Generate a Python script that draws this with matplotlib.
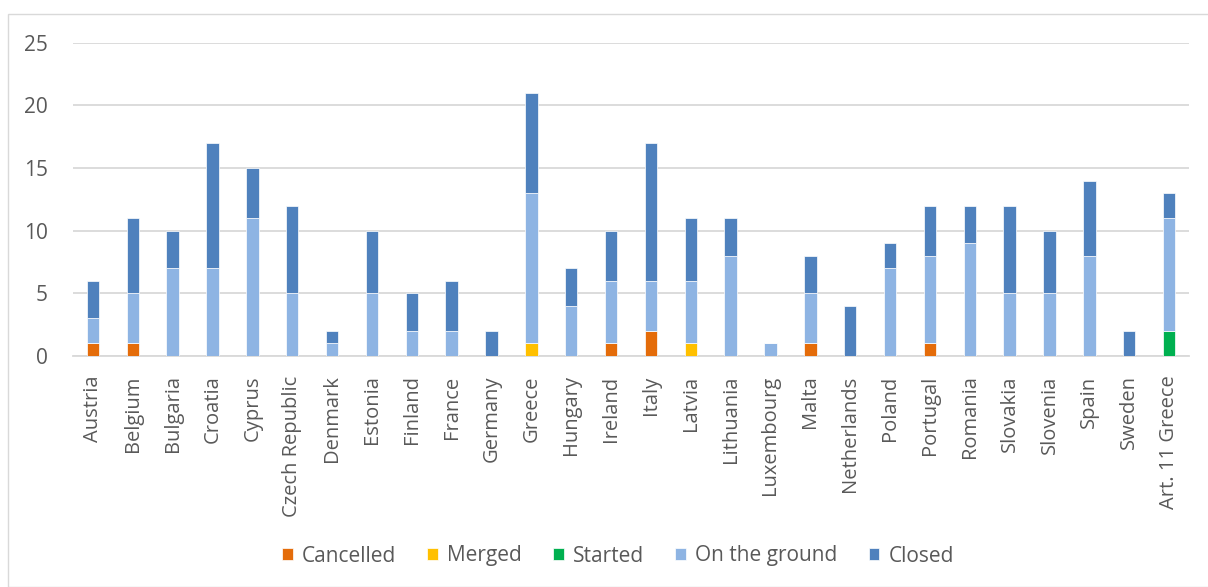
import matplotlib
matplotlib.use("Agg")
import matplotlib.pyplot as plt
import numpy as np
from matplotlib.patches import Rectangle

countries = ["Austria", "Belgium", "Bulgaria", "Croatia", "Cyprus", "Czech Republic",
             "Denmark", "Estonia", "Finland", "France", "Germany", "Greece", "Hungary",
             "Ireland", "Italy", "Latvia", "Lithuania", "Luxembourg", "Malta",
             "Netherlands", "Poland", "Portugal", "Romania", "Slovakia", "Slovenia",
             "Spain", "Sweden", "Art. 11 Greece"]
cancelled = [1, 1, 0, 0, 0, 0, 0, 0, 0, 0, 0, 0, 0, 1, 2, 0, 0, 0, 1, 0, 0, 1, 0, 0, 0, 0, 0, 0]
merged    = [0, 0, 0, 0, 0, 0, 0, 0, 0, 0, 0, 1, 0, 0, 0, 1, 0, 0, 0, 0, 0, 0, 0, 0, 0, 0, 0, 0]
started   = [0, 0, 0, 0, 0, 0, 0, 0, 0, 0, 0, 0, 0, 0, 0, 0, 0, 0, 0, 0, 0, 0, 0, 0, 0, 0, 0, 2]
on_ground = [2, 4, 7, 7, 11, 5, 1, 5, 2, 2, 0, 12, 4, 5, 4, 5, 8, 1, 4, 0, 7, 7, 9, 5, 5, 8, 0, 9]
closed    = [3, 6, 3, 10, 4, 7, 1, 5, 3, 4, 2, 8, 3, 4, 11, 5, 3, 0, 3, 4, 2, 4, 3, 7, 5, 6, 2, 2]
series_names = ["Cancelled", "Merged", "Started", "On the ground", "Closed"]
colors = ["#E46C0A", "#FFC000", "#00B050", "#8EB4E3", "#4F81BD"]

FONT = ["Open Sans", "DejaVu Sans"]
TXT = "#595959"

fig = plt.figure(figsize=(12.08, 5.87), dpi=100)
W, H = 1208, 587
ax = fig.add_axes([73 / W, 1 - 356 / H, (1189 - 73) / W, (356 - 42.7) / H])

x = np.arange(len(countries))
bottom = np.zeros(len(countries))
handles = []
for name, vals, c in zip(series_names, [cancelled, merged, started, on_ground, closed], colors):
    vals = np.array(vals, dtype=float)
    b = ax.bar(x, vals, 0.31, bottom=bottom, color=c, edgecolor="white", linewidth=0.5,
               label=name, zorder=3)
    handles.append(b)
    bottom += vals

ax.set_xlim(-0.5, len(countries) - 0.5)
ax.set_ylim(0, 25)
ax.set_yticks([0, 5, 10, 15, 20, 25])
ax.yaxis.grid(True, color="#D9D9D9", linewidth=1.3, zorder=0)
ax.set_axisbelow(True)
for s in ["top", "right", "left"]:
    ax.spines[s].set_visible(False)
ax.spines["bottom"].set_color("#D9D9D9")
ax.spines["bottom"].set_linewidth(1.3)
ax.tick_params(axis="both", length=0, colors=TXT)
ax.tick_params(axis="y", pad=18)
ax.tick_params(axis="x", pad=14)
ax.set_xticks(x)
ax.set_xticklabels(countries, rotation=90, va="top", ha="center")
for lab in ax.get_xticklabels():
    lab.set_fontfamily(FONT)
    lab.set_fontsize(14.5)
    lab.set_color(TXT)
for lab in ax.get_yticklabels():
    lab.set_fontfamily(FONT)
    lab.set_fontsize(15)
    lab.set_color(TXT)

leg = fig.legend(handles=handles, labels=series_names, loc="center",
                 bbox_to_anchor=(618 / W, 1 - 556 / H), ncol=5, frameon=False,
                 prop={"family": FONT, "size": 15}, handlelength=0.5, handleheight=0.5,
                 handletextpad=0.45, columnspacing=1.5, borderaxespad=0)
for t in leg.get_texts():
    t.set_color(TXT)

fig.patches.append(Rectangle((8 / W, 0), 1.0, 1 - 14 / H, transform=fig.transFigure,
                             fill=False, edgecolor="#D9D9D9", linewidth=1.0))

fig.savefig("out.png", dpi=100)
